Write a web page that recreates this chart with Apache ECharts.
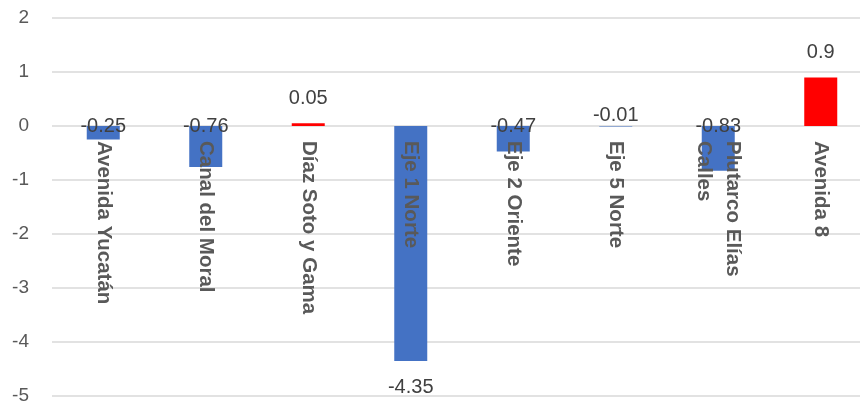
<!DOCTYPE html>
<html>
<head>
<meta charset="utf-8">
<script src="https://cdn.jsdelivr.net/npm/echarts@6/dist/echarts.min.js"></script>
<style>
html,body{margin:0;padding:0;background:#fff;}
#chart{width:860px;height:406px;}
</style>
</head>
<body>
<div id="chart"></div>
<script>
const categories = ['Avenida Yucatán', 'Canal del Moral', 'Díaz Soto y Gama', 'Eje 1 Norte', 'Eje 2 Oriente', 'Eje 5 Norte', 'Plutarco Elías Calles', 'Avenida 8'];
const values = [-0.25, -0.76, 0.05, -4.35, -0.47, -0.01, -0.83, 0.9];
const yMin = -5, yMax = 2, yStep = 1;

const FONT = 'Liberation Sans';
const BLUE = '#4472C4', RED = '#FF0000';

const data = values.map(function (v) {
  let pos, dist;
  if (v > 0) { pos = 'top'; dist = 15; }
  else if (v < -2) { pos = 'bottom'; dist = 17; }
  else if (v > -0.1) { pos = 'top'; dist = 1; }
  else { pos = 'top'; dist = -10; }
  return {
    value: v,
    itemStyle: { color: v > 0 ? RED : BLUE },
    label: { position: pos, distance: dist }
  };
});

const gridTop = 18, gridBottom = 10, chartH = 406;
const plotH = chartH - gridTop - gridBottom;
const zeroOffset = -plotH * (0 - yMin) / (yMax - yMin);

const chart = echarts.init(document.getElementById('chart'), null, { renderer: 'canvas' });
chart.setOption({
  animation: false,
  backgroundColor: '#ffffff',
  grid: { left: 52, right: -12, top: gridTop, bottom: gridBottom, containLabel: false, outerBoundsMode: 'none' },
  xAxis: {
    type: 'category',
    data: categories,
    position: 'bottom',
    offset: zeroOffset,
    z: 5,
    axisLine: { show: false, onZero: false },
    axisTick: { show: false },
    axisLabel: {
      rotate: -90,
      margin: 15,
      interval: 0,
      hideOverlap: false,
      fontFamily: FONT,
      fontSize: 20.5,
      fontWeight: 'bold',
      color: '#595959',
      width: 190,
      overflow: 'break',
      lineHeight: 29
    }
  },
  yAxis: {
    type: 'value',
    min: yMin,
    max: yMax,
    interval: yStep,
    axisLine: { show: false },
    axisTick: { show: false },
    axisLabel: { fontFamily: FONT, fontSize: 19, color: '#595959', margin: 23 },
    splitLine: { lineStyle: { color: '#d9d9d9', width: 1.5 } }
  },
  series: [{
    type: 'bar',
    data: data,
    barWidth: 33,
    z: 2,
    label: {
      show: true,
      fontFamily: FONT,
      fontSize: 20,
      color: '#404040'
    }
  }]
});
</script>
</body>
</html>
